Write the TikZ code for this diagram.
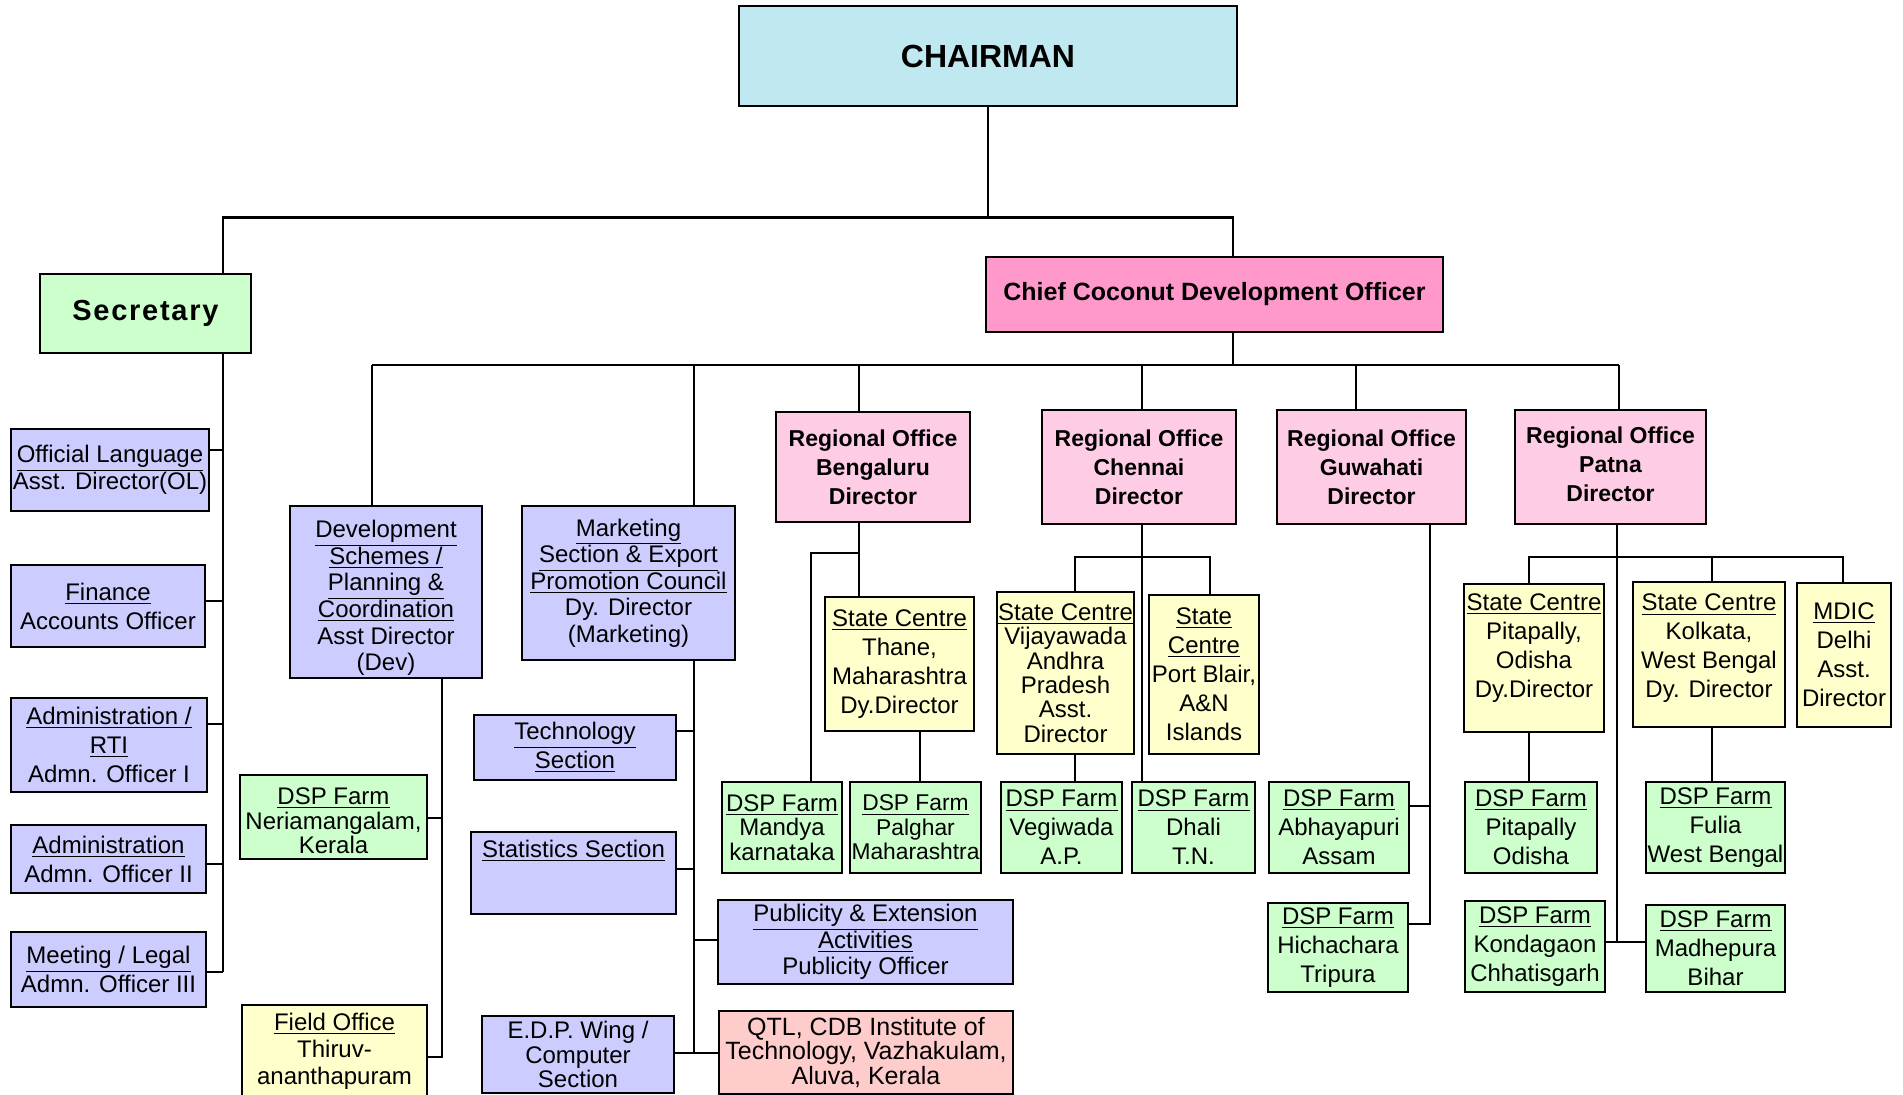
\documentclass[tikz,border=0pt]{standalone}
\usepackage{fontspec}
\setmainfont{Liberation Sans}
\newfontfamily\spacedfont{Liberation Sans}[LetterSpace=6]
\usepackage{xcolor}
\lineskiplimit=-20pt

\definecolor{chaircol}{RGB}{192,232,240}
\definecolor{greencol}{RGB}{204,255,204}
\definecolor{lavcol}{RGB}{204,204,255}
\definecolor{ccdocol}{RGB}{255,153,204}
\definecolor{rocol}{RGB}{255,204,230}
\definecolor{yelcol}{RGB}{255,255,204}
\definecolor{qtlcol}{RGB}{255,204,204}

\newcommand{\orgbox}[8][]{%
\node[box,#3,minimum width={(#6-#4)*0.5pt},minimum height={(#7-#5)*0.5pt}] (#2) at ({(#4+#6)/2},{(#5+#7)/2}) {};
\node[boxtext,#1] (#2t) at (#2.center) {#8};}

\begin{document}
\begin{tikzpicture}[x=0.5pt,y=-0.5pt,
box/.style={draw=black,line width=1.4pt,inner sep=0pt},
boxtext/.style={align=center,inner sep=0pt,font=\fontsize{12}{14.5}\selectfont},
mid/.style={font=\fontsize{12}{13.3}\selectfont},
tight/.style={font=\fontsize{12}{12.2}\selectfont},
rotext/.style={font=\bfseries\fontsize{11.5}{14.6}\selectfont},
conn/.style={line width=1.2pt}]
\useasboundingbox (0,0) rectangle (1903,1095);

\orgbox[font=\bfseries\fontsize{16}{19}\selectfont]{chair}{fill=chaircol}{739}{6}{1237}{106}{CHAIRMAN}
\orgbox[font=\spacedfont\bfseries\fontsize{14.5}{17}\selectfont]{sec}{fill=greencol}{40}{274}{251}{353}{Secretary}
\orgbox[font=\bfseries\fontsize{12.5}{15}\selectfont]{ccdo}{fill=ccdocol}{986}{257}{1443}{332}{Chief Coconut Development Officer}

\orgbox[mid]{ol}{fill=lavcol}{11}{429}{209}{511}{\underline{Official Language}\\Asst. Director(OL)}
\orgbox{fin}{fill=lavcol}{11}{565}{205}{647}{\underline{Finance}\\Accounts Officer}
\orgbox{rti}{fill=lavcol}{11}{698}{207}{792}{\underline{Administration /}\\\underline{RTI}\\Admn. Officer I}
\orgbox{adm}{fill=lavcol}{11}{825}{206}{893}{\underline{Administration}\\Admn. Officer II}
\orgbox{leg}{fill=lavcol}{11}{932}{206}{1007}{\underline{Meeting / Legal}\\Admn. Officer III}

\orgbox[mid,yshift=-3pt]{dev}{fill=lavcol}{290}{506}{482}{678}{\underline{Development}\\\underline{Schemes /}\\\underline{Planning \&}\\\underline{Coordination}\\Asst Director\\(Dev)}
\orgbox[tight,yshift=-2pt]{nerf}{fill=greencol}{240}{775}{427}{859}{\underline{DSP Farm}\\Neriamangalam,\\Kerala}
\orgbox[font=\fontsize{12}{13.5}\selectfont,yshift=3pt]{fo}{fill=yelcol}{242}{1005}{427}{1110}{\underline{Field Office}\\Thiruv-\\ananthapuram}

\orgbox[mid]{mkt}{fill=lavcol}{522}{506}{735}{660}{\underline{Marketing}\\\underline{Section \& Export}\\\underline{Promotion Council}\\Dy. Director\\(Marketing)}
\orgbox{tech}{fill=lavcol}{474}{715}{676}{780}{\underline{Technology}\\\underline{Section}}
\orgbox[yshift=11pt]{stat}{fill=lavcol}{471}{832}{676}{914}{\underline{Statistics Section}}
\orgbox[mid]{pub}{fill=lavcol}{718}{900}{1013}{984}{\underline{Publicity \& Extension}\\\underline{Activities}\\Publicity Officer}
\orgbox[tight]{edp}{fill=lavcol}{482}{1016}{674}{1093}{E.D.P. Wing /\\Computer\\Section}
\orgbox[font=\fontsize{12.5}{12.2}\selectfont]{qtl}{fill=qtlcol}{719}{1011}{1013}{1094}{QTL, CDB Institute of\\Technology, Vazhakulam,\\Aluva, Kerala}

\orgbox[rotext]{rob}{fill=rocol}{776}{412}{970}{522}{Regional Office\\Bengaluru\\Director}
\orgbox[rotext]{roc}{fill=rocol}{1042}{410}{1236}{524}{Regional Office\\Chennai\\Director}
\orgbox[rotext]{rog}{fill=rocol}{1277}{410}{1466}{524}{Regional Office\\Guwahati\\Director}
\orgbox[rotext,yshift=1.5pt]{rop}{fill=rocol}{1515}{410}{1706}{524}{Regional Office\\Patna\\Director}

\orgbox{thane}{fill=yelcol}{825}{597}{974}{731}{\underline{State Centre}\\Thane,\\Maharashtra\\Dy.Director}
\orgbox[tight]{mandya}{fill=greencol}{722}{782}{842}{873}{\underline{DSP Farm}\\Mandya\\karnataka}
\orgbox[font=\fontsize{11.4}{12.2}\selectfont]{palghar}{fill=greencol}{850}{782}{981}{873}{\underline{DSP Farm}\\Palghar\\Maharashtra}

\orgbox[tight]{viz}{fill=yelcol}{997}{592}{1134}{754}{\underline{State Centre}\\Vijayawada\\Andhra\\Pradesh\\Asst.\\Director}
\orgbox{pb}{fill=yelcol}{1149}{595}{1259}{754}{\underline{State}\\\underline{Centre}\\Port Blair,\\A\&N\\Islands}
\orgbox{veg}{fill=greencol}{1001}{782}{1122}{873}{\underline{DSP Farm}\\Vegiwada\\A.P.}
\orgbox{dhali}{fill=greencol}{1132}{782}{1255}{873}{\underline{DSP Farm}\\Dhali\\T.N.}

\orgbox{abh}{fill=greencol}{1269}{782}{1409}{873}{\underline{DSP Farm}\\Abhayapuri\\Assam}
\orgbox{hich}{fill=greencol}{1268}{903}{1408}{992}{\underline{DSP Farm}\\Hichachara\\Tripura}

\orgbox[yshift=5pt]{scp}{fill=yelcol}{1464}{584}{1604}{732}{\underline{State Centre}\\Pitapally,\\Odisha\\Dy.Director}
\orgbox[yshift=3pt]{sck}{fill=yelcol}{1633}{582}{1785}{727}{\underline{State Centre}\\Kolkata,\\West Bengal\\Dy. Director}
\orgbox{mdic}{fill=yelcol}{1797}{583}{1891}{727}{\underline{MDIC}\\Delhi\\Asst.\\Director}
\orgbox{dspp}{fill=greencol}{1465}{782}{1597}{873}{\underline{DSP Farm}\\Pitapally\\Odisha}
\orgbox{fulia}{fill=greencol}{1646}{782}{1785}{873}{\underline{DSP Farm}\\Fulia\\West Bengal}
\orgbox{kond}{fill=greencol}{1465}{901}{1605}{992}{\underline{DSP Farm}\\Kondagaon\\Chhatisgarh}
\orgbox{madh}{fill=greencol}{1646}{905}{1785}{992}{\underline{DSP Farm}\\Madhepura\\Bihar}

\coordinate (tl) at (223,217.5);
\coordinate (tr) at (1233,217.5);
\draw[conn] (chair.south) -- (chair.south |- tl);
\draw[conn] (sec.north -| tl) -- (tl) -- (tr) -- (ccdo.north -| tr);

\coordinate (sb) at (223,972);
\draw[conn] (sec.south -| sb) -- (sb);
\foreach \n/\y in {ol/450,fin/601,rti/724,adm/864,leg/972}
\draw[conn] (\n.east |- 0,\y) -- (sb |- 0,\y);

\coordinate (bl) at (372,365);
\coordinate (br) at (1619,365);
\draw[conn] (ccdo.south -| tr) -- (tr |- bl);
\draw[conn] (bl) -- (br);
\foreach \n/\x in {dev/372,mkt/694,rob/859,roc/1142,rog/1356,rop/1619}
\draw[conn] (bl -| \x,0) -- (\n.north -| \x,0);

\coordinate (dvb) at (442,1057);
\draw[conn] (dev.south -| dvb) -- (dvb) -- (fo.east |- dvb);
\draw[conn] (nerf.east |- 0,818) -- (dvb |- 0,818);

\coordinate (mkb) at (694,1053);
\draw[conn] (mkt.south -| mkb) -- (mkb);
\draw[conn] (edp.east |- mkb) -- (qtl.west |- mkb);
\foreach \n/\y in {tech/731,stat/869}
\draw[conn] (\n.east |- 0,\y) -- (mkb |- 0,\y);
\draw[conn] (pub.west |- 0,940) -- (mkb |- 0,940);

\coordinate (bj) at (859,553);
\coordinate (bk) at (811,553);
\draw[conn] (rob.south -| bj) -- (thane.north -| bj);
\draw[conn] (bj) -- (bk) -- (mandya.north -| bk);
\draw[conn] (thane.south -| 920,0) -- (palghar.north -| 920,0);

\coordinate (cj) at (1142,557);
\coordinate (cl) at (1075,557);
\coordinate (cr) at (1210,557);
\draw[conn] (roc.south -| cj) -- (dhali.north -| cj);
\draw[conn] (viz.north -| cl) -- (cl) -- (cr) -- (pb.north -| cr);
\draw[conn] (viz.south -| cl) -- (veg.north -| cl);

\coordinate (gb) at (1430,924);
\draw[conn] (rog.south -| gb) -- (gb) -- (hich.east |- gb);
\draw[conn] (abh.east |- 0,806) -- (gb |- 0,806);

\coordinate (pl) at (1529,557);
\coordinate (pr) at (1843,557);
\coordinate (pt) at (1617,942);
\draw[conn] (rop.south -| pt) -- (pt);
\draw[conn] (kond.east |- pt) -- (madh.west |- pt);
\draw[conn] (scp.north -| pl) -- (pl) -- (pr) -- (mdic.north -| pr);
\draw[conn] (pl -| 1712,0) -- (sck.north -| 1712,0);
\draw[conn] (scp.south -| pl) -- (dspp.north -| pl);
\draw[conn] (sck.south -| 1712,0) -- (fulia.north -| 1712,0);
\end{tikzpicture}
\end{document}
